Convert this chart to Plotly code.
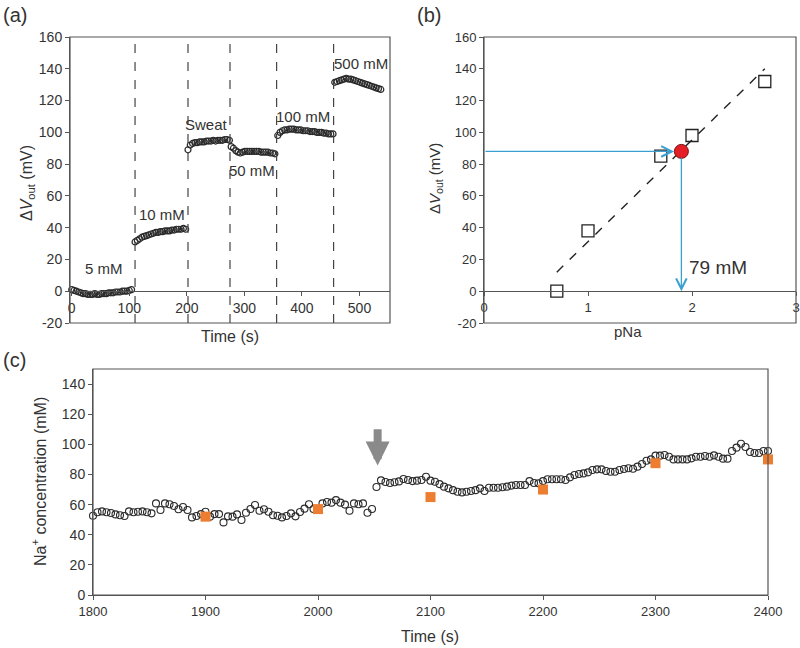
import plotly.graph_objects as go

W, H = 800, 648

# ---------------- Panel (a) data ----------------
seg_starts = [0, 110, 202, 277, 358, 457]
seg_step = 4
seg_vals = [
    [1, 0.5, 0, -0.5, -1, -1.5, -1.5, -2, -2, -2, -1.5, -2, -2, -1.5, -1.5, -1.5, -1, -1, -1, -0.5,
     -0.5, -0.5, 0, 0, 0, 0.5, 1],
    [31, 32, 33, 34, 34.5, 35, 35.5, 36, 36.5, 37, 37, 37.5, 37.5, 38, 38, 38, 38.5, 38.5, 39, 39,
     39, 39.5, 39],
    [89, 92, 93, 93.5, 93.5, 94, 94, 94, 94.5, 94.5, 94.5, 95, 94.5, 95, 95, 95, 95.5, 95.5, 95],
    [91, 90, 88.5, 87.5, 87, 87.5, 88, 88, 88, 88, 88, 88, 88, 87.5, 87.5, 87.5, 87.5, 87, 87, 86.5],
    [98, 100, 101, 101.5, 101.5, 102, 102, 102, 101.5, 101.5, 101.5, 101, 101, 101, 100.5, 100.5,
     100.5, 100, 100, 100, 99.5, 99.5, 99, 99, 99],
    [131.5, 132, 132.5, 133, 133.5, 134, 133.5, 133.5, 133, 132.5, 132, 131.5, 131, 130.5, 130,
     129.5, 129, 128.5, 128, 127.5, 127],
]
switch_times = [110, 202, 275, 356, 455]
seg_labels = ["5 mM", "10 mM", "Sweat", "50 mM", "100 mM", "500 mM"]
seg_label_x = [56, 157, 235, 313, 402, 503]
seg_label_y = [14.5, 48, 105, 76, 110, 143.5]

# shared tick labels for the mV axes
mv_ticks = [-20, 0, 20, 40, 60, 80, 100, 120, 140, 160]
mv_labels = ["-20", "0", "20", "40", "60", "80", "100", "120", "140", "160"]

# ---------------- Panel (b) data ----------------
pna = [0.7, 1.0, 1.7, 2.0, 2.7]
vout = [0, 38, 85, 98, 132]
fit_x = [0.7, 2.7]
fit_y = [12, 140]
sweat_pna = 1.898
sweat_v = 88

# ---------------- Panel (c) data ----------------
c1_start, c2_start, c_step = 1800, 2052, 4
c1_vals = [52.6, 54.9, 55.5, 54.9, 54.4, 53.5, 52.9, 52.4, 55.5, 54.9,
           55.3, 55.5, 54.9, 54.2, 60.8, 56.4, 60.8, 60.2, 59.1, 56.9,
           58.4, 56.4, 51.5, 52.4, 53.7, 55.3, 52.0, 53.7, 53.7, 48.2,
           52.2, 52.0, 53.5, 49.8, 54.6, 57.1, 59.7, 55.9, 56.9, 55.3,
           52.9, 52.6, 51.5, 52.4, 54.2, 52.2, 55.1, 57.3, 60.2, 57.1,
           56.9, 60.8, 61.7, 61.3, 63.0, 61.3, 60.0, 55.9, 60.8, 60.2,
           60.8, 54.6, 57.1]
c2_vals = [71.7, 76.1, 75.0, 74.3, 74.8, 75.4, 77.0, 76.3, 75.6, 75.9,
           76.3, 78.5, 75.9, 75.2, 73.6, 71.9, 70.8, 69.6, 68.5, 68.1,
           68.5, 69.0, 69.6, 70.8, 69.0, 71.2, 71.2, 71.2, 71.5, 71.9,
           72.6, 73.0, 73.0, 73.0, 75.6, 74.3, 74.1, 75.6, 76.8, 76.8,
           76.8, 76.8, 76.3, 78.1, 79.6, 80.3, 80.7, 81.4, 83.0, 83.4,
           83.4, 82.3, 81.8, 81.8, 83.0, 83.6, 84.1, 83.8, 85.2, 86.9,
           89.1, 90.0, 92.5, 92.5, 92.9, 91.8, 90.0, 90.0, 90.0, 90.0,
           90.7, 91.8, 91.8, 92.3, 91.8, 92.7, 91.8, 90.5, 90.5, 95.6,
           97.8, 100.4, 98.2, 94.9, 94.2, 94.2, 95.6, 95.6]
ref_t = [1900, 2000, 2100, 2200, 2300, 2400]
ref_na = [52, 57, 65, 70, 87.5, 90]
arrow_t = 2053

FONT = "Arial, Liberation Sans, sans-serif"
TXT = "#333333"
AX = "#555555"


def px_x(p):
    return p / W


def px_y(p):
    return 1 - p / H


fig = go.Figure()

# panel (a) traces
ta, va = [], []
for s, vals in zip(seg_starts, seg_vals):
    ta += [s + seg_step * i for i in range(len(vals))]
    va += vals
fig.add_trace(go.Scatter(x=ta, y=va, mode="markers", xaxis="x", yaxis="y", cliponaxis=False,
                         marker=dict(symbol="circle-open", size=6, color="#2a2a2a", line=dict(width=1.2)),
                         showlegend=False))
for t in switch_times:
    fig.add_trace(go.Scatter(x=[t, t], y=[-20, 160], mode="lines", xaxis="x", yaxis="y",
                             line=dict(color="#444", width=1.2, dash="dash"), showlegend=False))

# panel (b) traces
fig.add_trace(go.Scatter(x=fit_x, y=fit_y, mode="lines", xaxis="x2", yaxis="y2",
                         line=dict(color="#222", width=1.4, dash="dash"), showlegend=False))
fig.add_trace(go.Scatter(x=pna, y=vout, mode="markers", xaxis="x2", yaxis="y2", cliponaxis=False,
                         marker=dict(symbol="square-open", size=12, color="#222", line=dict(width=1.3)),
                         showlegend=False))
fig.add_trace(go.Scatter(x=[sweat_pna], y=[sweat_v], mode="markers", xaxis="x2", yaxis="y2",
                         marker=dict(symbol="circle", size=14, color="#e41e26",
                                     line=dict(color="#7a1010", width=1)),
                         showlegend=False))

# panel (c) traces
t1 = [c1_start + c_step * i for i in range(len(c1_vals))]
t2 = [c2_start + c_step * i for i in range(len(c2_vals))]
for tt, vv in ((t1, c1_vals), (t2, c2_vals)):
    fig.add_trace(go.Scatter(x=tt, y=vv, mode="markers", xaxis="x3", yaxis="y3", cliponaxis=False,
                             marker=dict(symbol="circle-open", size=7, color="#2a2a2a", line=dict(width=1.1)),
                             showlegend=False))
fig.add_trace(go.Scatter(x=ref_t, y=ref_na, mode="markers", xaxis="x3", yaxis="y3", cliponaxis=False,
                         marker=dict(symbol="square", size=10, color="#ed7d31"),
                         showlegend=False))

# domains
ya_dom = [px_y(323), px_y(37)]
xa_dom = [px_x(70), px_x(390)]
xb_dom = [px_x(484), px_x(796)]
yc_dom = [px_y(595), px_y(369)]
xc_dom = [px_x(93), px_x(768)]
zero_pos = ya_dom[0] + (ya_dom[1] - ya_dom[0]) * 20 / 180

tickfont = dict(family=FONT, size=14, color=TXT)
tickfont_b = dict(family=FONT, size=13, color=TXT)

common_y = dict(range=[-20, 160], tickvals=mv_ticks, ticktext=mv_labels, showgrid=False,
                zeroline=False, showline=True, linecolor=AX, ticks="outside", ticklen=4,
                tickcolor=AX, domain=ya_dom, automargin=False)
common_x = dict(showgrid=False, zeroline=False, showline=True, linecolor=AX, linewidth=1.2,
                ticks="outside", ticklen=4, tickcolor=AX, anchor="free", position=zero_pos,
                automargin=False)

fig.update_layout(
    width=W, height=H, margin=dict(l=0, r=0, t=0, b=0, autoexpand=False),
    paper_bgcolor="white", plot_bgcolor="white",
    font=dict(family=FONT, color=TXT),
    xaxis=dict(common_x, domain=xa_dom, range=[-3, 553], tickvals=[0, 100, 200, 300, 400, 500],
               tickfont=tickfont),
    yaxis=dict(common_y, anchor="x", tickfont=tickfont),
    xaxis2=dict(common_x, domain=xb_dom, range=[0, 3], dtick=1, tickfont=tickfont_b),
    yaxis2=dict(common_y, anchor="x2", tickfont=tickfont_b),
    xaxis3=dict(domain=xc_dom, range=[1800, 2400], dtick=100, showgrid=False, zeroline=False,
                showline=True, linecolor=AX, ticks="outside", ticklen=4, tickcolor=AX,
                anchor="y3", tickfont=dict(family=FONT, size=13, color=TXT), automargin=False),
    yaxis3=dict(domain=yc_dom, range=[0, 150], tickvals=[0, 20, 40, 60, 80, 100, 120, 140],
                showgrid=False, zeroline=False, showline=True, linecolor=AX, ticks="outside",
                ticklen=4, tickcolor=AX, anchor="x3", automargin=False,
                tickfont=dict(family=FONT, size=14, color=TXT)),
)

# frames
shapes = []
for xr, yr in (("x", "y"), ("x2", "y2"), ("x3", "y3")):
    shapes.append(dict(type="rect", xref=f"{xr} domain", yref=f"{yr} domain", x0=0, x1=1, y0=0, y1=1,
                       line=dict(color=AX, width=1.2), layer="above"))
fig.update_layout(shapes=shapes)

ann = []


def paper_text(text, x, y, size, angle=0):
    ann.append(dict(text=text, x=px_x(x), y=px_y(y), xref="paper", yref="paper", showarrow=False,
                    xanchor="center", yanchor="middle", textangle=angle,
                    font=dict(family=FONT, size=size, color=TXT)))


# panel labels
paper_text("(a)", 15, 15, 20)
paper_text("(b)", 429, 15, 20)
paper_text("(c)", 14, 360, 20)
# axis titles
paper_text("Δ<i>V</i><sub>out</sub> (mV)", 27, 183, 16, -90)
paper_text("Δ<i>V</i><sub>out</sub> (mV)", 435, 178, 15, -90)
paper_text("Time (s)", 230, 336, 16)
paper_text("pNa", 628, 331, 15)
paper_text("Na<sup>+</sup> concentration (mM)", 39, 482, 16, -90)
paper_text("Time (s)", 430, 636, 16)

# panel (a) segment labels
for lab, x, y in zip(seg_labels, seg_label_x, seg_label_y):
    ann.append(dict(text=lab, x=x, y=y, xref="x", yref="y", showarrow=False,
                    xanchor="center", yanchor="middle",
                    font=dict(family=FONT, size=15, color=TXT)))
# panel (b) arrows and text
BLUE = "#3aa0d2"
ann.append(dict(x=sweat_pna - 0.07, y=sweat_v, ax=0, ay=sweat_v, xref="x2", yref="y2", axref="x2",
                ayref="y2", showarrow=True, arrowhead=5, arrowsize=1.6, arrowwidth=1.3, arrowcolor=BLUE,
                text=""))
ann.append(dict(x=sweat_pna, y=0, ax=sweat_pna, ay=sweat_v - 3, xref="x2", yref="y2", axref="x2",
                ayref="y2", showarrow=True, arrowhead=5, arrowsize=1.6, arrowwidth=1.3, arrowcolor=BLUE,
                text=""))
ann.append(dict(text="79 mM", x=2.25, y=15, xref="x2", yref="y2", showarrow=False,
                xanchor="center", yanchor="middle",
                font=dict(family=FONT, size=19, color=TXT)))
# panel (c) grey arrow
ann.append(dict(x=arrow_t, y=86, ax=arrow_t, ay=111, xref="x3", yref="y3", axref="x3", ayref="y3",
                showarrow=True, arrowhead=2, arrowsize=0.6, arrowwidth=8, arrowcolor="#8a8a8a", text=""))
fig.update_layout(annotations=ann)

fig.write_html("out.html", config={"displayModeBar": False},
               post_script="document.body.style.margin='0px';")
